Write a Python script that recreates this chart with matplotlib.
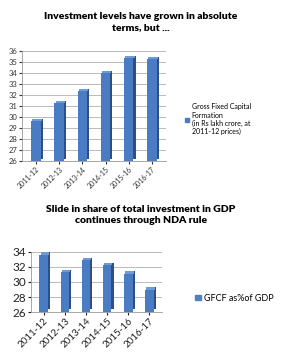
import matplotlib
matplotlib.use("Agg")
import matplotlib.pyplot as plt
import numpy as np
from matplotlib.patches import Patch

years = ["2011-12", "2012-13", "2013-14", "2014-15", "2015-16", "2016-17"]
gfcf_levels = [29.6, 31.3, 32.4, 34.0, 35.4, 35.3]
gfcf_share = [33.6, 31.3, 32.9, 32.2, 31.1, 29.0]

plt.rcParams['font.family'] = ['Lato', 'DejaVu Sans']

face = "#4a7cc4"
side = "#2b4f86"
top = "#6f9ad6"

fig = plt.figure(figsize=(2.82, 3.62), dpi=100)

def bars3d(ax, vals, base, width, dx, dy):
    x = np.arange(len(vals))
    h = np.array(vals) - base
    ax.bar(x + dx, h, width=width, bottom=base + dy, color=side, zorder=2, linewidth=0)
    ax.bar(x, h, width=width, bottom=base, color=face, zorder=3, linewidth=0)
    ax.bar(x + dx / 2, dy, width=width, bottom=np.array(vals), color=top, zorder=3.5, linewidth=0)

# Top chart
ax1 = fig.add_axes([0.078, 0.555, 0.51, 0.304])
bars3d(ax1, gfcf_levels, 26, 0.4, 0.1, 0.18)
ax1.set_ylim(26, 36)
ax1.set_xlim(-0.6, 5.6)
ax1.set_yticks(range(26, 37))
ax1.yaxis.grid(True, color="#b0b0b0", linewidth=0.6, zorder=0)
ax1.set_axisbelow(True)
ax1.set_xticks(range(len(years)))
ax1.set_xticklabels(years, rotation=45, ha="right", rotation_mode="anchor", fontsize=5)
ax1.tick_params(axis="y", labelsize=5.5, length=2, pad=1, colors="#333333")
ax1.tick_params(axis="x", length=2, pad=1, colors="#333333")
for s in ["top", "right"]:
    ax1.spines[s].set_visible(False)
for s in ["left", "bottom"]:
    ax1.spines[s].set_color("#999999")
    ax1.spines[s].set_linewidth(0.6)
fig.text(0.5, 0.968, "Investment levels have grown in absolute\nterms, but ...",
         ha="center", va="top", fontsize=7.5, fontweight="heavy", linespacing=1.35)
fig.legend(handles=[Patch(color=face)],
           labels=["Gross Fixed Capital\nFormation\n(in Rs lakh crore, at\n2011-12 prices)"],
           loc="upper left", bbox_to_anchor=(0.645, 0.722), frameon=False,
           fontsize=5, handlelength=0.6, handleheight=0.6, handletextpad=0.4,
           borderaxespad=0, labelspacing=0)

# Bottom chart
ax2 = fig.add_axes([0.11, 0.138, 0.465, 0.166])
bars3d(ax2, gfcf_share, 26, 0.4, 0.1, 0.35)
ax2.set_ylim(26, 34)
ax2.set_xlim(-0.6, 5.6)
ax2.set_yticks([26, 28, 30, 32, 34])
ax2.yaxis.grid(True, color="#b0b0b0", linewidth=0.6, zorder=0)
ax2.set_axisbelow(True)
ax2.set_xticks(range(len(years)))
ax2.set_xticklabels(years, rotation=45, ha="right", rotation_mode="anchor", fontsize=7)
ax2.tick_params(axis="y", labelsize=8.5, length=2, pad=1.5, colors="#222222")
ax2.tick_params(axis="x", length=2, pad=1, colors="#222222")
for s in ["top", "right"]:
    ax2.spines[s].set_visible(False)
for s in ["left", "bottom"]:
    ax2.spines[s].set_color("#999999")
    ax2.spines[s].set_linewidth(0.6)
fig.text(0.5, 0.435, "Slide in share of total investment in GDP\ncontinues through NDA rule",
         ha="center", va="top", fontsize=7.5, fontweight="heavy", linespacing=1.35)
fig.legend(handles=[Patch(color="#4f81bd")], labels=["GFCF as%of GDP"],
           loc="center left", bbox_to_anchor=(0.68, 0.176), frameon=False,
           fontsize=6.5, handlelength=0.6, handleheight=0.6, handletextpad=0.4,
           borderaxespad=0)

fig.savefig("out.png", dpi=100)
